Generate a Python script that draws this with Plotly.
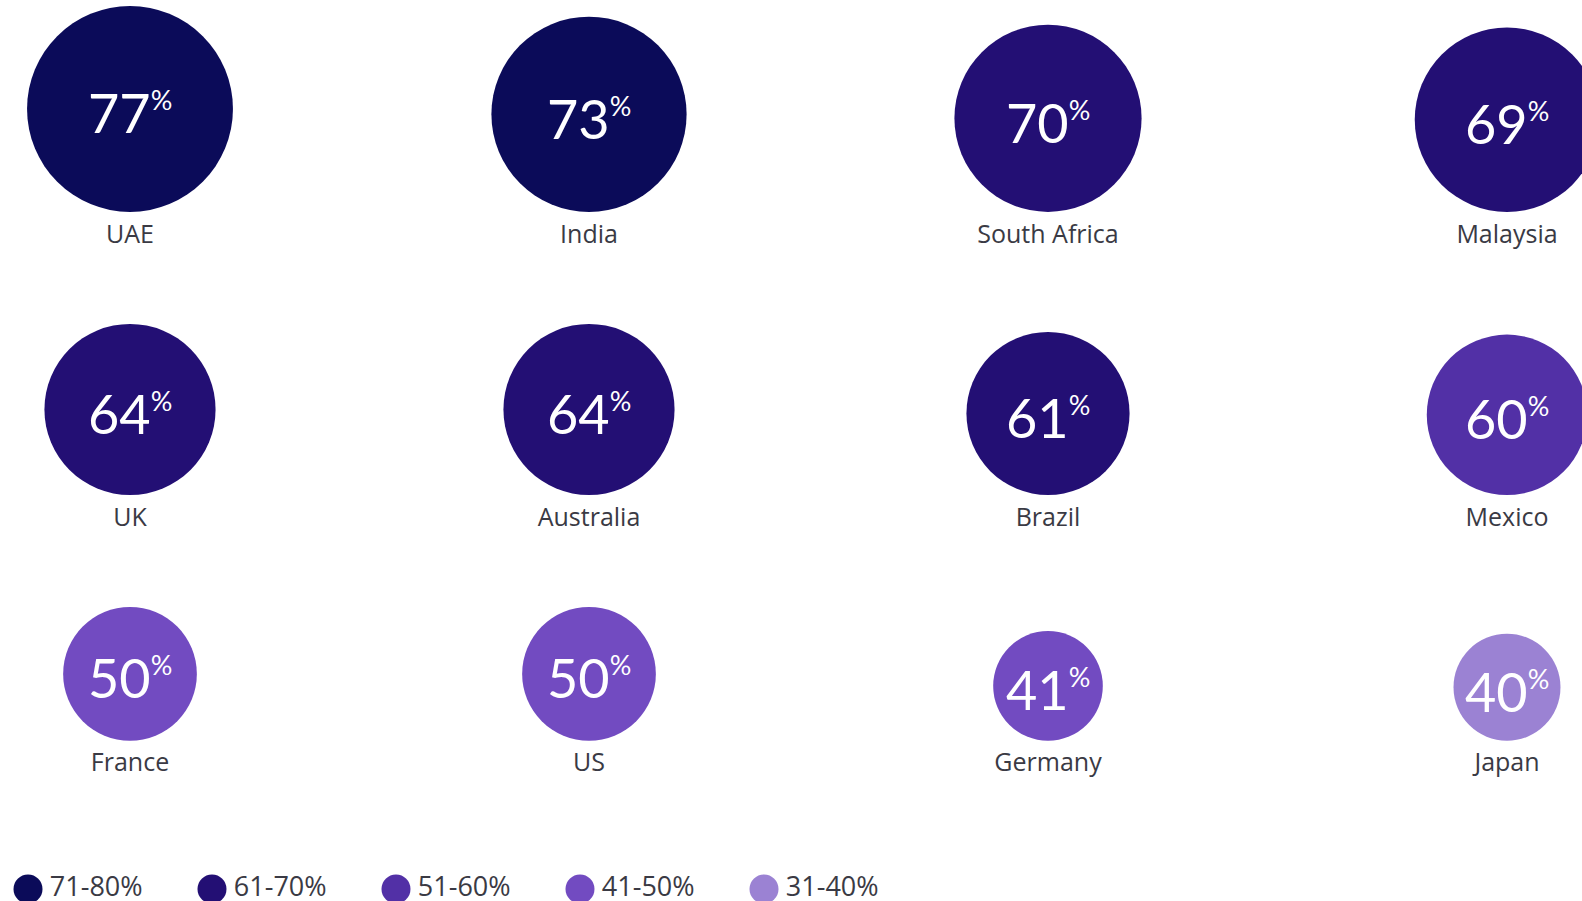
import plotly.graph_objects as go

# ---- data ----
countries = ["UAE", "India", "South Africa", "Malaysia",
             "UK", "Australia", "Brazil", "Mexico",
             "France", "US", "Germany", "Japan"]
values = [77, 73, 70, 69, 64, 64, 61, 60, 50, 50, 41, 40]
bin_labels = ["71-80%", "61-70%", "51-60%", "41-50%", "31-40%"]
bin_lows = [71, 61, 51, 41, 31]
bin_colors = ["#0b0b59", "#230f74", "#5230a6", "#724bc1", "#9b82d3"]

# ---- layout parameters ----
W, H = 1582, 901
NCOL = 4
SCALE = 2.674          # px of diameter per percentage point
TOP0 = 6               # top of first row (px)
ROW_GAP = 112          # gap between row baseline and next row top (px)
COL0_PX, COL_STEP_PX = 130, 459
LEG0_PX, LEG_STEP_PX, LEG_Y = 28, 184, 889

def color_for(v):
    for lo, c in zip(bin_lows, bin_colors):
        if v >= lo:
            return c
    return bin_colors[-1]

cols = [i % NCOL for i in range(len(values))]
rows = [i // NCOL for i in range(len(values))]
diam = [v * SCALE for v in values]
nrows = max(rows) + 1
baselines = []
top = TOP0
for r in range(nrows):
    dmax = max(d for d, rr in zip(diam, rows) if rr == r)
    base = top + dmax
    baselines.append(base)
    top = base + ROW_GAP
ycent = [baselines[r] - d / 2 for r, d in zip(rows, diam)]
ybase = [baselines[r] + 12 for r in rows]

fig = go.Figure()
fig.add_trace(go.Scatter(
    x=cols, y=ycent, mode="markers",
    marker=dict(size=values, sizemode="diameter", sizeref=1 / SCALE,
                color=[color_for(v) for v in values], line=dict(width=0), opacity=1),
    hoverinfo="skip", showlegend=False,
))
fig.add_trace(go.Scatter(
    x=cols, y=ybase, mode="text", text=countries, textposition="bottom center",
    textfont=dict(family="Open Sans, sans-serif", size=25, color="#3a3a44"),
    hoverinfo="skip", showlegend=False,
))
fig.add_trace(go.Scatter(
    x=list(range(len(bin_labels))), y=[LEG_Y] * len(bin_labels),
    xaxis="x2", yaxis="y",
    mode="markers+text",
    marker=dict(size=29, color=bin_colors, line=dict(width=0)),
    text=["\u200a" + b for b in bin_labels], textposition="middle right",
    textfont=dict(family="Open Sans, sans-serif", size=27, color="#3a3a44"),
    hoverinfo="skip", showlegend=False,
))

for c, y, v in zip(cols, ycent, values):
    fig.add_annotation(
        x=c, y=y, xref="x", yref="y",
        text=f"{v}<sup><span style='font-size:27px'>%</span></sup>",
        showarrow=False, xanchor="center", yanchor="middle", yshift=-4,
        font=dict(family="Lato, Open Sans, sans-serif", size=54, color="white"),
    )

xa = -COL0_PX / COL_STEP_PX
xb = xa + W / COL_STEP_PX
la = -LEG0_PX / LEG_STEP_PX
lb = la + W / LEG_STEP_PX
fig.update_layout(
    width=W, height=H, margin=dict(l=0, r=0, t=0, b=0),
    paper_bgcolor="white", plot_bgcolor="white",
    xaxis=dict(range=[xa, xb], visible=False, fixedrange=True),
    xaxis2=dict(range=[la, lb], visible=False, overlaying="x", fixedrange=True),
    yaxis=dict(range=[H, 0], visible=False, fixedrange=True),
    showlegend=False,
)
fig.write_html("out.html", config={"displayModeBar": False},
               post_script="document.body.style.margin='0';document.body.style.overflow='hidden';")
